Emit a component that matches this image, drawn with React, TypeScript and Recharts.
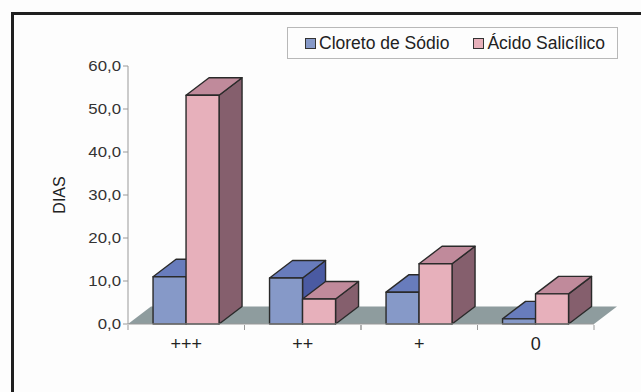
import { BarChart, Bar, XAxis, YAxis, Legend, ReferenceLine } from 'recharts';

const categories = ['+++', '++', '+', '0'];
const cloretoDeSodio = [11.0, 10.7, 7.4, 1.2];
const acidoSalicilico = [53.2, 5.8, 14.0, 7.0];
const yTicks = [0, 10, 20, 30, 40, 50, 60];

const data = categories.map((cat, i) => ({
  cat,
  cloreto: cloretoDeSodio[i],
  acido: acidoSalicilico[i],
}));

const FONT = '"Liberation Sans", Arial, sans-serif';
const DX = 23;
const DY = -17.5;

const BLUE = { front: '#8699c8', top: '#687cbc', side: '#4a5aa2' };
const PINK = { front: '#e7b0bb', top: '#c08a9b', side: '#855f6d' };

function box(c: typeof BLUE) {
  return (props: any) => {
    const { x, y, width: w, height: h } = props;
    if (w == null || h == null) return null;
    const st = { stroke: '#2a2a2a', strokeWidth: 1.4, strokeLinejoin: 'round' as const };
    return (
      <g>
        <polygon
          points={`${x + w},${y} ${x + w + DX},${y + DY} ${x + w + DX},${y + h + DY} ${x + w},${y + h}`}
          fill={c.side}
          {...st}
        />
        <polygon
          points={`${x},${y} ${x + DX},${y + DY} ${x + w + DX},${y + DY} ${x + w},${y}`}
          fill={c.top}
          {...st}
        />
        <rect x={x} y={y} width={w} height={h} fill={c.front} {...st} />
      </g>
    );
  };
}

const floor = (p: any) => {
  const { x1, y1, x2, y2 } = p;
  return (
    <polygon
      points={`${x1},${y1} ${x2},${y2} ${x2 + DX},${y2 + DY} ${x1 + DX},${y1 + DY}`}
      fill="#8e9c9e"
    />
  );
};

const YTick = (p: any) => {
  const { x, y, payload } = p;
  return (
    <text
      transform={`translate(${x},${y}) scale(1.12,1)`}
      textAnchor="end"
      dy="0.36em"
      fontSize={15}
      fontFamily={FONT}
      fill="#333"
    >
      {payload.value.toFixed(1).replace('.', ',')}
    </text>
  );
};

// half band width for the boundary tick marks
const XTick = (p: any) => {
  const { x, y, payload, width } = p;
  const off = typeof payload.offset === 'number' && payload.offset > 0 ? payload.offset : width / categories.length / 2;
  return (
    <g>
      <line x1={x - off} x2={x - off} y1={y - 7} y2={y - 2} stroke="#999" />
      <line x1={x + off} x2={x + off} y1={y - 7} y2={y - 2} stroke="#999" />
      <text x={x} y={y + 18} textAnchor="middle" fontSize={18} fontFamily={FONT} fill="#222">
        {payload.value}
      </text>
    </g>
  );
};

const LegendBox = ({ payload }: any) => (
  <div
    style={{
      width: 331,
      height: 32,
      border: '1px solid #b8b8b8',
      display: 'flex',
      alignItems: 'center',
      paddingLeft: 17,
      boxSizing: 'border-box',
      fontFamily: FONT,
      fontSize: 17.5,
      color: '#222',
    }}
  >
    {(payload || []).map((e: any, i: number) => (
      <span key={e.value} style={{ display: 'flex', alignItems: 'center', marginLeft: i ? 24 : 0 }}>
        <span
          style={{
            width: 9,
            height: 9,
            background: e.color,
            border: '1.5px solid #333',
            marginRight: 3,
            display: 'inline-block',
          }}
        />
        {e.value}
      </span>
    ))}
  </div>
);

export default function App() {
  return (
    <div style={{ position: 'absolute', left: 0, top: 0, width: 641, height: 392, background: '#fdfdfd', overflow: 'hidden' }}>
      <div
        style={{
          position: 'absolute',
          left: 11,
          top: 12,
          width: 700,
          height: 500,
          border: '3.5px solid #1f1f1f',
        }}
      />
      <BarChart
        width={641}
        height={392}
        data={data}
        margin={{ top: 66, right: 47, bottom: 38, left: 0 }}
        barCategoryGap="21.5%"
        barGap={0}
        style={{ position: 'absolute', left: 0, top: 0 }}
      >
        <ReferenceLine y={0} shape={floor} zIndex={-10} />
        <XAxis
          dataKey="cat"
          height={30}
          stroke="#999"
          tickLine={false}
          tick={<XTick />}
          interval={0}
        />
        <YAxis
          width={128}
          domain={[0, 60]}
          ticks={yTicks}
          stroke="#999"
          tickSize={5}
          tick={<YTick />}
          label={{ value: 'DIAS', angle: -90, position: 'center', dx: -5, fontSize: 16, fontFamily: FONT, fill: '#222' }}
        />
        <Legend
          layout="horizontal"
          verticalAlign="middle"
          align="center"
          content={<LegendBox />}
          wrapperStyle={{ position: 'absolute', left: 287, top: 27, width: 331, height: 34 }}
        />
        <Bar dataKey="cloreto" name="Cloreto de Sódio" fill={BLUE.front} shape={box(BLUE)} isAnimationActive={false} />
        <Bar dataKey="acido" name="Ácido Salicílico" fill={PINK.front} shape={box(PINK)} isAnimationActive={false} />
      </BarChart>
    </div>
  );
}
